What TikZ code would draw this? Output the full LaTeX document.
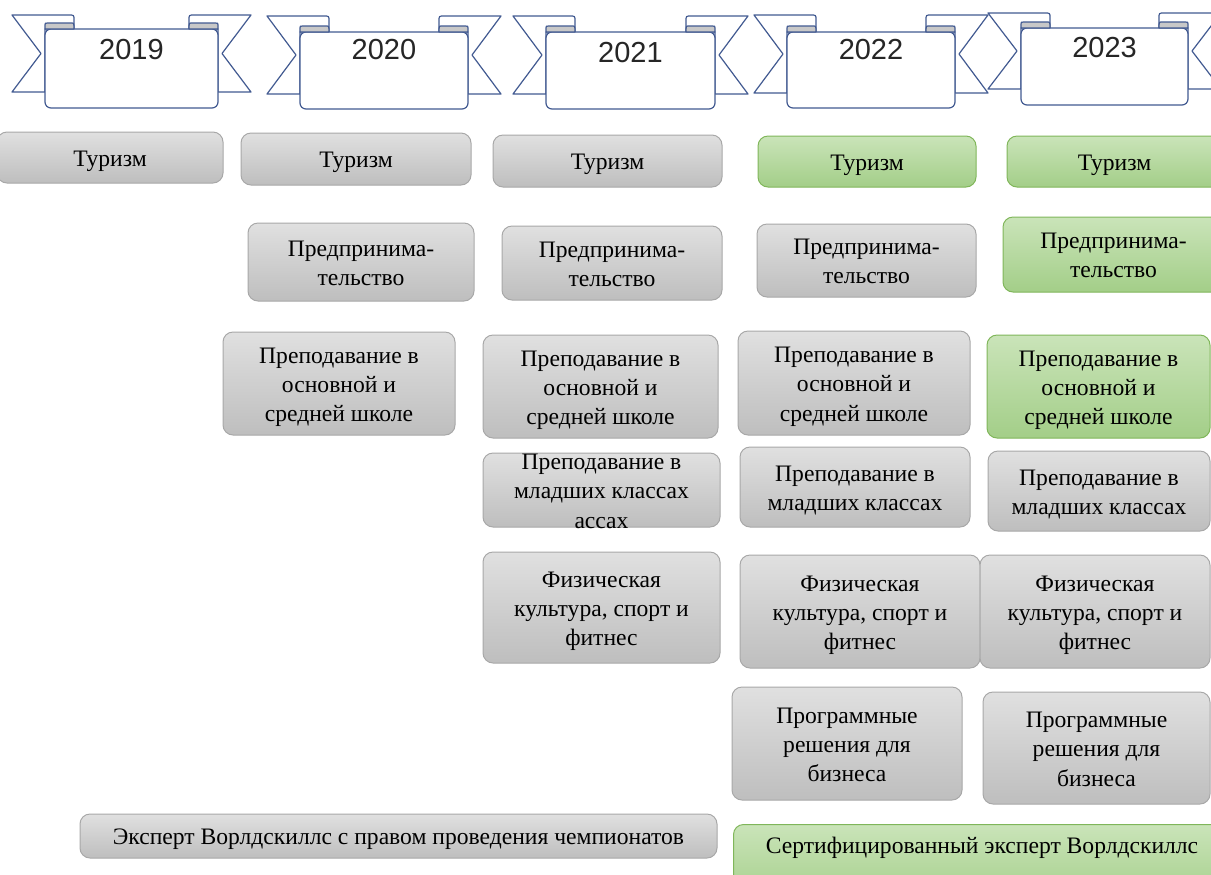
\documentclass[tikz,border=0pt]{standalone}
\usepackage{fontspec}
\setmainfont{Liberation Serif}
\newfontfamily\yearfont{Liberation Sans}

\definecolor{ribline}{RGB}{66,90,145}
\definecolor{curlgray}{RGB}{200,200,200}
\definecolor{boxline}{RGB}{168,168,168}
\definecolor{graytop}{RGB}{224,224,224}
\definecolor{graybot}{RGB}{190,190,190}
\definecolor{greenline}{RGB}{128,182,90}
\definecolor{greentop}{RGB}{202,228,185}
\definecolor{greenbot}{RGB}{163,206,136}

\tikzset{
  rib/.style={draw=ribline, line width=0.6pt, line join=round},
  yearlbl/.style={font=\yearfont\fontsize{14.5}{17}\selectfont, text=black!85},
  graybox/.style={draw=boxline, line width=0.5pt, rounded corners=5pt,
    top color=graytop, bottom color=graybot, inner sep=0pt,
    font=\fontsize{11.8}{14.6}\selectfont},
  greenbox/.style={graybox, draw=greenline, top color=greentop, bottom color=greenbot},
}

% text lines of a box, taking no room of their own
\newcommand\boxtxt[2][-4.5pt]{\raisebox{#1}[0pt][0pt]{\begin{tabular}{@{}c@{}}#2\end{tabular}}}
% box from (x1,y1) to (x2,y2), in pixels of the page
\newcommand\boxat[7][graybox]{%
  \node[#1, minimum width={(#5-#3)*0.5pt}, minimum height={(#6-#4)*0.5pt}]
    (#2) at ({(#3+#5)/2},{(#4+#6)/2}) {\boxtxt{#7}};}

\begin{document}
\begin{tikzpicture}[x=0.5pt,y=-0.5pt]
  \useasboundingbox (0,0) rectangle (1211,874);

  % year ribbons
  \foreach \xl/\xr/\yt/\yb/\ya/\yz/\yr/\yy in {45/218/29/108/15/92/2019/50,
      300/468/32/109/16/94/2020/50, 546/715/32/109/16/94/2021/53,
      787/955/32/108/15/93/2022/50, 1021/1188/28/105/13/89/2023/48}{
    \draw[rib,fill=white] ({\xl-33},\ya) -- ({\xl+24},\ya) .. controls ({\xl+29},\ya) .. ({\xl+29},{\ya+5})
      -- ({\xl+29},\yt) -- (\xl,\yt) -- (\xl,\yz) -- ({\xl-33},\yz) -- ({\xl-4},{(\ya+\yz)/2}) -- cycle;
    \draw[rib,fill=white] ({\xr+33},\ya) -- ({\xr-24},\ya) .. controls ({\xr-29},\ya) .. ({\xr-29},{\ya+5})
      -- ({\xr-29},\yt) -- (\xr,\yt) -- (\xr,\yz) -- ({\xr+33},\yz) -- ({\xr+4},{(\ya+\yz)/2}) -- cycle;
    \draw[rib,fill=white,rounded corners=3pt] (\xl,\yt) -- (\xl,\yb) -- (\xr,\yb) -- (\xr,\yt) -- cycle;
    \draw[rib,fill=curlgray] (\xl,\yt) -- (\xl,{\yt-4}) .. controls (\xl,{\yt-6}) .. ({\xl+3},{\yt-6})
      -- ({\xl+25},{\yt-6}) .. controls ({\xl+29},{\yt-6}) .. ({\xl+29},{\yt-3}) -- ({\xl+29},\yt) -- cycle;
    \draw[rib,fill=curlgray] (\xr,\yt) -- (\xr,{\yt-4}) .. controls (\xr,{\yt-6}) .. ({\xr-3},{\yt-6})
      -- ({\xr-25},{\yt-6}) .. controls ({\xr-29},{\yt-6}) .. ({\xr-29},{\yt-3}) -- ({\xr-29},\yt) -- cycle;
    \node[yearlbl] (y\yr) at ({(\xl+\xr)/2},\yy) {\yr};
  }

  % tourism
  \boxat{t19}{-3}{132}{223}{183}{Туризм}
  \boxat{t20}{241}{133}{471}{185}{Туризм}
  \boxat{t21}{493}{135}{722}{187}{Туризм}
  \boxat[greenbox]{t22}{758}{136}{976}{187}{Туризм}
  \boxat[greenbox]{t23}{1007}{136}{1222}{187}{Туризм}

  % business
  \boxat{p20}{248}{223}{474}{301}{Предпринима-\\тельство}
  \boxat{p21}{502}{226}{722}{300}{Предпринима-\\тельство}
  \boxat{p22}{757}{224}{976}{297}{Предпринима-\\тельство}
  \boxat[greenbox]{p23}{1003}{217}{1224}{292}{Предпринима-\\тельство}

  % school teaching
  \boxat{s20}{223}{332}{455}{435}{Преподавание в\\основной и\\средней школе}
  \boxat{s21}{483}{335}{718}{438}{Преподавание в\\основной и\\средней школе}
  \boxat{s22}{738}{331}{970}{435}{Преподавание в\\основной и\\средней школе}
  \boxat[greenbox]{s23}{987}{335}{1210}{438}{Преподавание в\\основной и\\средней школе}

  % primary classes
  \boxat{m21}{483}{453}{720}{527}{Преподавание в\\младших классах\\ассах}
  \boxat{m22}{740}{447}{970}{527}{Преподавание в\\младших классах}
  \boxat{m23}{988}{451}{1210}{531}{Преподавание в\\младших классах}

  % sport
  \boxat{f21}{483}{552}{720}{663}{Физическая\\культура, спорт и\\фитнес}
  \boxat{f22}{740}{555}{980}{668}{Физическая\\культура, спорт и\\фитнес}
  \boxat{f23}{980}{555}{1210}{668}{Физическая\\культура, спорт и\\фитнес}

  % software
  \boxat{b22}{732}{687}{962}{800}{Программные\\решения для\\бизнеса}
  \boxat{b23}{983}{692}{1210}{804}{Программные\\решения для\\бизнеса}

  % experts
  \boxat{e20}{80}{814}{717}{858}{Эксперт Ворлдскиллс с правом проведения чемпионатов}
  \node[greenbox, anchor=north west, minimum width={(1230-733)*0.5pt}, minimum height=40pt]
    (e23) at (733,824) {\boxtxt[5.5pt]{Сертифицированный эксперт Ворлдскиллс}};
\end{tikzpicture}
\end{document}
